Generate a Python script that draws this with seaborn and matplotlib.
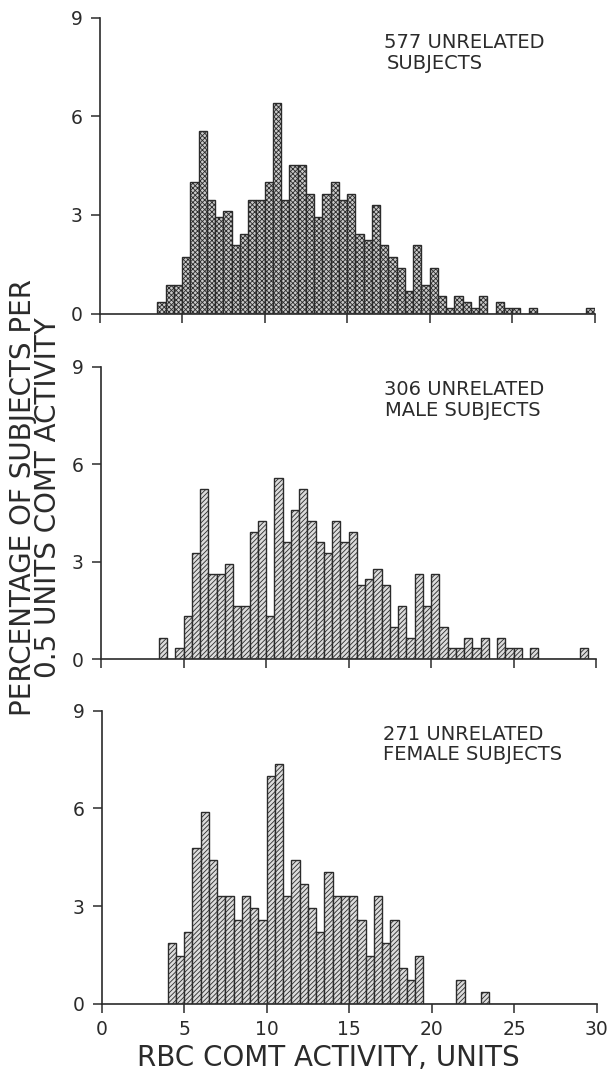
import numpy as np
import pandas as pd
import matplotlib
matplotlib.use("Agg")
import matplotlib.pyplot as plt
import seaborn as sns

# ---- data: percentage of subjects per 0.5-unit bin (bin start 3.5 ... 29.5) ----
bin_starts = [3.5 + 0.5 * i for i in range(53)]

all_pct = [0.35, 0.87, 0.87, 1.73, 3.99, 5.55, 3.47, 2.95, 3.12, 2.08,
           2.43, 3.47, 3.47, 3.99, 6.41, 3.47, 4.51, 4.51, 3.64, 2.95,
           3.64, 3.99, 3.47, 3.64, 2.43, 2.25, 3.29, 2.08, 1.73, 1.39,
           0.69, 2.08, 0.87, 1.39, 0.52, 0.17, 0.52, 0.35, 0.17, 0.52,
           0.00, 0.35, 0.17, 0.17, 0.00, 0.17, 0.00, 0.00, 0.00, 0.00,
           0.00, 0.00, 0.17]

male_pct = [0.65, 0.00, 0.33, 1.31, 3.27, 5.23, 2.61, 2.61, 2.94, 1.63,
            1.63, 3.92, 4.25, 1.31, 5.56, 3.59, 4.58, 5.23, 4.25, 3.59,
            3.27, 4.25, 3.59, 3.92, 2.29, 2.46, 2.77, 2.29, 0.98, 1.63,
            0.65, 2.61, 1.63, 2.61, 0.98, 0.33, 0.33, 0.65, 0.33, 0.65,
            0.00, 0.65, 0.33, 0.33, 0.00, 0.33, 0.00, 0.00, 0.00, 0.00,
            0.00, 0.33, 0.00]

female_pct = [0.00, 1.85, 1.48, 2.21, 4.80, 5.90, 4.43, 3.32, 3.32, 2.58,
              3.32, 2.95, 2.58, 7.01, 7.38, 3.32, 4.43, 3.69, 2.95, 2.21,
              4.06, 3.32, 3.32, 3.32, 2.58, 1.48, 3.32, 1.85, 2.58, 1.11,
              0.74, 1.48, 0.00, 0.00, 0.00, 0.00, 0.74, 0.00, 0.00, 0.37,
              0.00, 0.00, 0.00, 0.00, 0.00, 0.00, 0.00, 0.00, 0.00, 0.00,
              0.00, 0.00, 0.00]

panel_titles = [("577 UNRELATED", "SUBJECTS"),
                ("306 UNRELATED", "MALE SUBJECTS"),
                ("271 UNRELATED", "FEMALE SUBJECTS")]

x_ticks = [0, 5, 10, 15, 20, 25, 30]
y_ticks = [0, 3, 6, 9]

# ---- style ----
sns.set_theme(style="white")
plt.rcParams['font.family'] = ['DejaVu Sans']
plt.rcParams['hatch.linewidth'] = 0.6
INK = '#2b2b2b'

fig = plt.figure(figsize=(6.13, 10.70), dpi=100)
rects = [[0.1625, 0.7070, 0.8075, 0.2762],
         [0.1648, 0.3841, 0.8075, 0.2732],
         [0.1659, 0.0620, 0.8075, 0.2736]]
series = [all_pct, male_pct, female_pct]
hatches = ['xxxxxxx', '///////', '///////']
faces = ['#c9c9c9', '#dcdcdc', '#dcdcdc']
text_pos = [((17.23, 8.10), (17.39, 7.45)),
            ((17.17, 8.13), (17.24, 7.48)),
            ((17.02, 8.11), (17.06, 7.50))]

edges = [float(e) for e in np.arange(3.5, 30.01, 0.5)]

for i, (rect, vals) in enumerate(zip(rects, series)):
    ax = fig.add_axes(rect)
    df = pd.DataFrame({'start': [b + 0.25 for b in bin_starts], 'pct': vals})
    df = df[df['pct'] > 0]
    sns.histplot(data=df, x='start', weights='pct', bins=edges, ax=ax,
                 stat='count', facecolor=faces[i], edgecolor=INK,
                 linewidth=1.0, hatch=hatches[i], alpha=1)
    ax.set_xlim(0, 30)
    ax.set_ylim(0, 9)
    ax.set_xticks(x_ticks)
    ax.set_yticks(y_ticks)
    ax.set_xlabel('')
    ax.set_ylabel('')
    sns.despine(ax=ax)
    for s in ['left', 'bottom']:
        ax.spines[s].set_color(INK)
        ax.spines[s].set_linewidth(1.2)
    ax.tick_params(axis='both', direction='out', length=6.5, width=1.1,
                   color=INK, labelcolor=INK, labelsize=13.5)
    ax.tick_params(axis='y', pad=6, left=True)
    ax.tick_params(axis='x', pad=5, bottom=True)
    if i < 2:
        ax.tick_params(axis='x', labelbottom=False)
    (x1, y1), (x2, y2) = text_pos[i]
    ax.text(x1, y1, panel_titles[i][0], fontsize=14, color=INK,
            ha='left', va='baseline')
    ax.text(x2, y2, panel_titles[i][1], fontsize=14, color=INK,
            ha='left', va='baseline')

fig.text(0.058, 0.535, "PERCENTAGE OF SUBJECTS PER\n0.5 UNITS COMT ACTIVITY",
         rotation=90, ha='center', va='center', fontsize=20, color=INK,
         linespacing=0.9, multialignment='center')
fig.text(0.535, 0.004, "RBC COMT ACTIVITY, UNITS", ha='center',
         va='baseline', fontsize=20, color=INK)

fig.savefig('out.png', dpi=100, facecolor='white')
